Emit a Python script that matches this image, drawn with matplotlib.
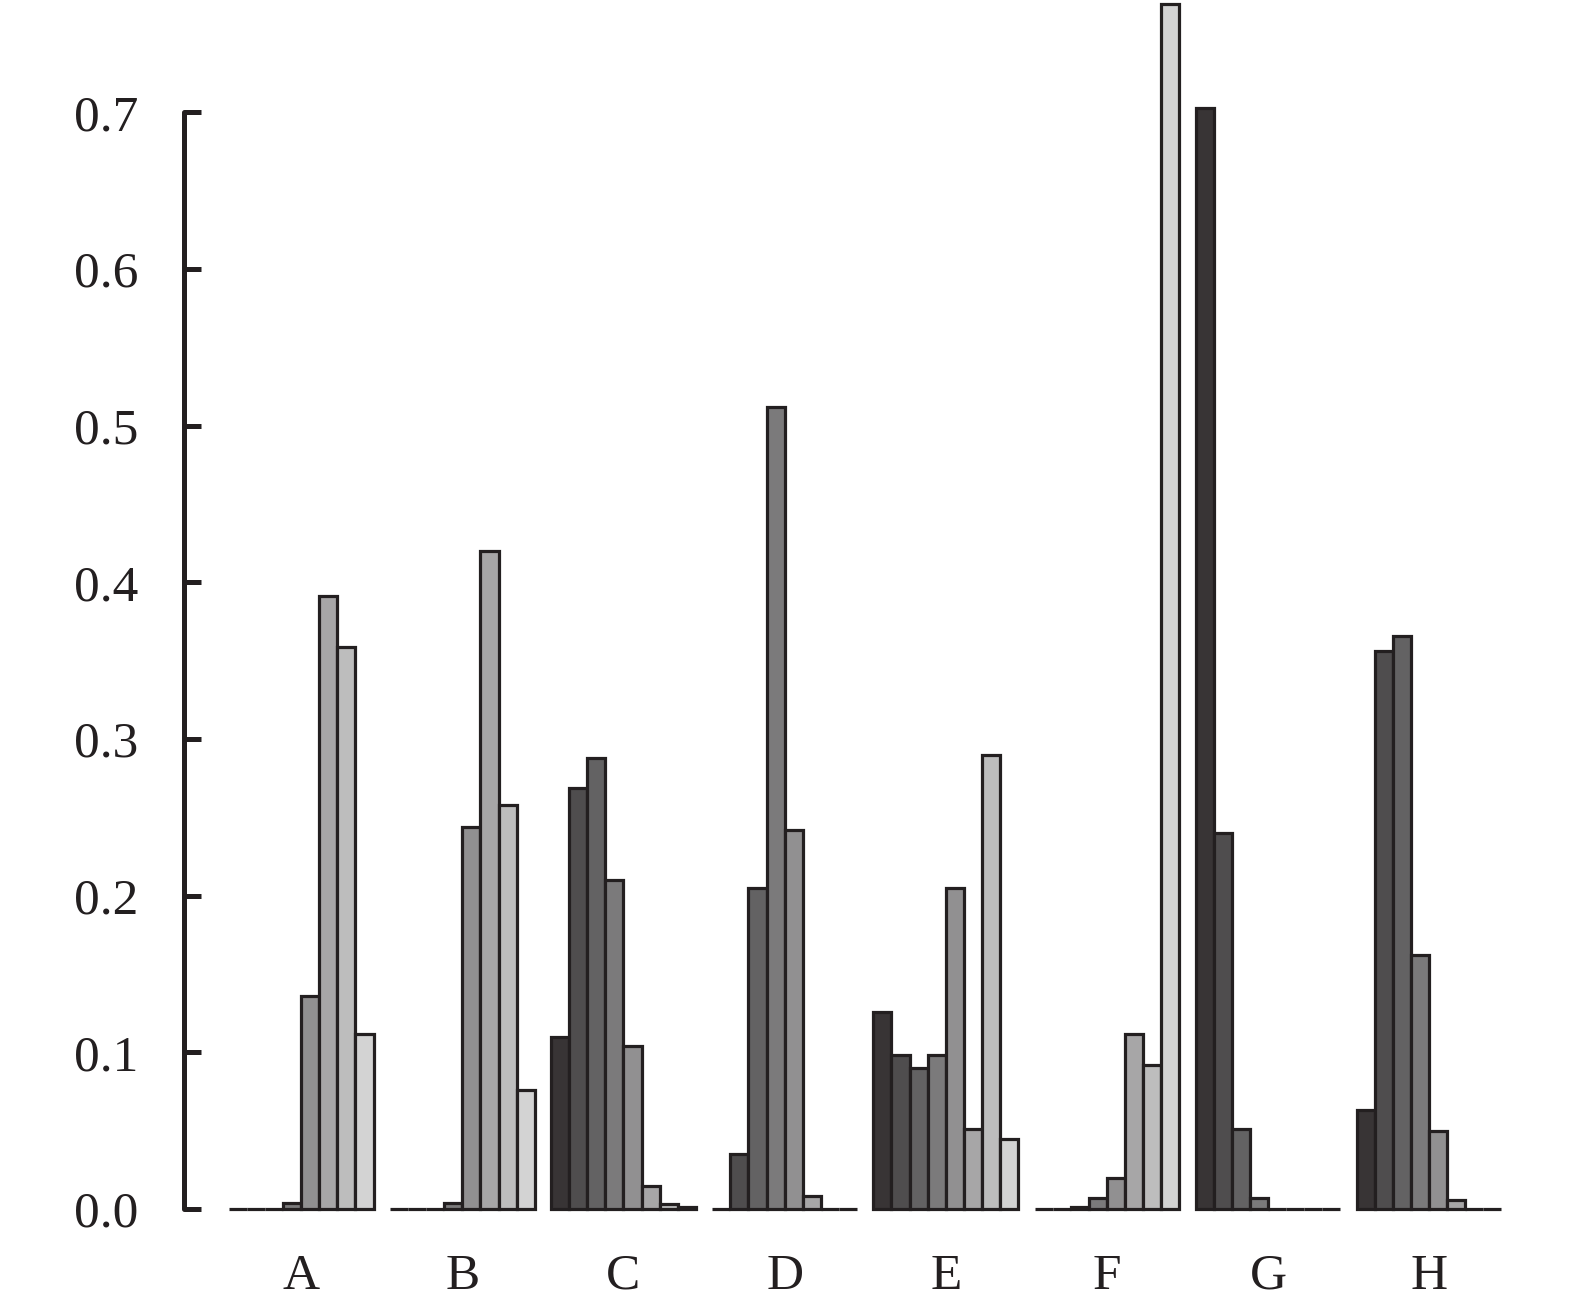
import matplotlib
matplotlib.use("Agg")
import matplotlib.pyplot as plt
import numpy as np

plt.rcParams["font.family"] = ["Liberation Serif", "DejaVu Serif"]

groups = ["A", "B", "C", "D", "E", "F", "G", "H"]

# one row per group, eight bars each (dark -> light)
values = [
    [0.000, 0.000, 0.000, 0.004, 0.136, 0.391, 0.359, 0.112],  # A
    [0.000, 0.000, 0.000, 0.004, 0.244, 0.420, 0.258, 0.076],  # B
    [0.110, 0.269, 0.288, 0.210, 0.104, 0.015, 0.003, 0.001],  # C
    [0.000, 0.035, 0.205, 0.512, 0.242, 0.008, 0.000, 0.000],  # D
    [0.126, 0.098, 0.090, 0.098, 0.205, 0.051, 0.290, 0.045],  # E
    [0.000, 0.000, 0.001, 0.007, 0.020, 0.112, 0.092, 0.769],  # F
    [0.703, 0.240, 0.051, 0.007, 0.000, 0.000, 0.000, 0.000],  # G
    [0.063, 0.356, 0.366, 0.162, 0.050, 0.006, 0.000, 0.000],  # H
]

shades = ["#383435", "#4f4d4e", "#636263", "#7b7a7b",
          "#919091", "#a7a6a7", "#bdbdbd", "#d3d3d3"]
edge = "#231f20"

data = np.array(values)
x = np.arange(len(groups))
width = 0.1122

fig = plt.figure(figsize=(15.75, 13.11), dpi=100)
ax = fig.add_axes([0.1167, 0.0778, 0.8418, 0.922])

for j in range(data.shape[1]):
    ax.bar(
        x + (j - 3.5) * width,
        data[:, j],
        width,
        color=shades[j],
        edgecolor=edge,
        linewidth=2.3,
        clip_on=False,
    )

ax.set_xlim(-0.729, 7.5)
ax.set_ylim(0, 0.7715)

for s in ["top", "right", "bottom"]:
    ax.spines[s].set_visible(False)
ax.spines["left"].set_bounds(0, 0.7)
ax.spines["left"].set_linewidth(3.6)
ax.spines["left"].set_color(edge)
ax.spines["left"].set_capstyle("round")

ax.set_yticks(np.arange(0, 0.71, 0.1))
ax.set_yticklabels([f"{v:.1f}" for v in np.arange(0, 0.71, 0.1)])
ax.tick_params(axis="y", direction="in", length=12, width=3.6,
               color=edge, pad=33, labelsize=37, labelcolor="#231f20")

ax.set_xticks(x)
ax.set_xticklabels(groups)
ax.tick_params(axis="x", length=0, pad=32, labelsize=37, labelcolor="#231f20")

fig.savefig("out.png", dpi=100)
plt.close(fig)
